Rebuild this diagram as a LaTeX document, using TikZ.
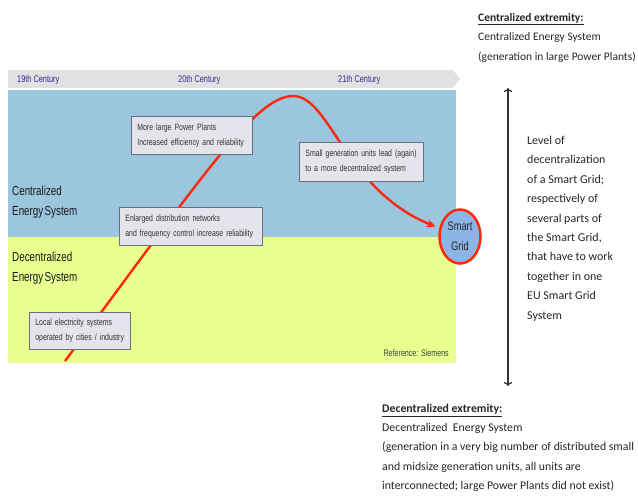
\documentclass[tikz,border=0pt]{standalone}
\usepackage{fontspec}
\setmainfont{Carlito}
\newfontfamily\narrowfont[FakeStretch=0.75]{Liberation Sans}
\usetikzlibrary{arrows.meta, positioning, shapes.geometric}

\definecolor{centralblue}{RGB}{155,198,222}
\definecolor{decentralyellow}{RGB}{233,255,143}
\definecolor{bargray}{RGB}{225,225,225}
\definecolor{centuryblue}{RGB}{50,40,150}
\definecolor{boxfill}{RGB}{228,228,236}
\definecolor{boxline}{RGB}{110,110,125}
\definecolor{curvered}{RGB}{255,40,10}
\definecolor{gridblue}{RGB}{140,180,230}

\begin{document}
\begin{tikzpicture}[x=1pt, y=-1pt,
    every node/.style={inner sep=0pt},
    century/.style={anchor=west, text=centuryblue, font=\narrowfont\fontsize{9.8}{11}\selectfont},
    zone/.style={anchor=north west, align=left, text=black!90, font=\narrowfont\fontsize{13.1}{20}\selectfont},
    infobox/.style={anchor=north west, draw=boxline, line width=0.8pt, fill=boxfill,
        inner xsep=6pt, align=left, text=black!80,
        font=\narrowfont\fontsize{9.2}{15}\selectfont},
    note/.style={anchor=north west, align=left, text=black!85, font=\fontsize{11.5}{19.5}\selectfont}]

    \useasboundingbox (0,0) rectangle (638,496);

    % time bar and the two zones
    \fill[bargray] (8,70) -- (453,70) -- (460,79) -- (453,88) -- (8,88) -- cycle;
    \fill[centralblue] (8,90) rectangle (456,237);
    \fill[decentralyellow] (8,237) rectangle (456,363);

    \node[century] (c19) at (17,80) {19th Century};
    \node[century] (c20) at (178,80) {20th Century};
    \node[century] (c21) at (338,80) {21th Century};

    \node[zone] (central) at (12,186) {Centralized\\Energy\hspace{0.1em}System};
    \node[zone] (decentral) at (12,252) {Decentralized\\Energy\hspace{0.1em}System};
    \node[anchor=east, text=black!75, font=\narrowfont\fontsize{9.5}{10}\selectfont] (ref) at (449,353) {Reference: Siemens};

    % smart grid
    \node[ellipse, draw=curvered, line width=2.5pt, fill=gridblue, minimum width=41pt, minimum height=54pt,
        align=center, text=black!85, font=\narrowfont\fontsize{12.4}{20}\selectfont] (sg) at (460,236.5) {Smart\\Grid};

    % development curve
    \coordinate (start) at (65,361);
    \coordinate (peak) at (293,96);
    \draw[curvered, line width=2.4pt, -{Stealth[length=9pt, width=8pt]}, shorten >=4pt]
        (start) .. controls (200,180) and (255,96) .. (peak)
        .. controls (330,96) and (345,190) .. (sg);

    \node[infobox, text width=109pt, minimum height=38pt] (plants) at (131,116) {More large Power Plants\\Increased efficiency and reliability};
    \node[infobox, text width=112pt, minimum height=39pt] (small) at (299,142) {Small generation units lead (again)\\to a more decentralized system};
    \node[infobox, text width=131pt, minimum height=38pt] (networks) at (119,207) {Enlarged distribution networks\\and frequency control increase reliability};
    \node[infobox, text width=89pt, minimum height=37pt] (local) at (29,312) {Local electricity systems\\operated by cities / industry};

    % right hand side
    \node[note] (top) at (478,13) {\underline{\textbf{Centralized extremity:}}\\Centralized Energy System\\(generation in large Power Plants)};
    \coordinate (uptip) at (508,88);
    \coordinate (downtip) at (508,386);
    \draw[black!80, line width=1.3pt, {To[length=4pt]}-{To[length=4pt]}] (uptip) -- (downtip);
    \node[note, font=\fontsize{12}{19.4}\selectfont] (level) at (527,136) {Level of\\decentralization\\of a Smart Grid;\\respectively of\\several parts of\\the Smart Grid,\\that have to work\\together in one\\EU Smart Grid\\System};
    \node[note, font=\fontsize{11.8}{19.2}\selectfont] (bottom) at (382,404) {\underline{\textbf{Decentralized extremity:}}\\Decentralized\ \ Energy System\\(generation in a very big number of distributed small\\and midsize generation units, all units are\\interconnected; large Power Plants did not exist)};
\end{tikzpicture}
\end{document}
